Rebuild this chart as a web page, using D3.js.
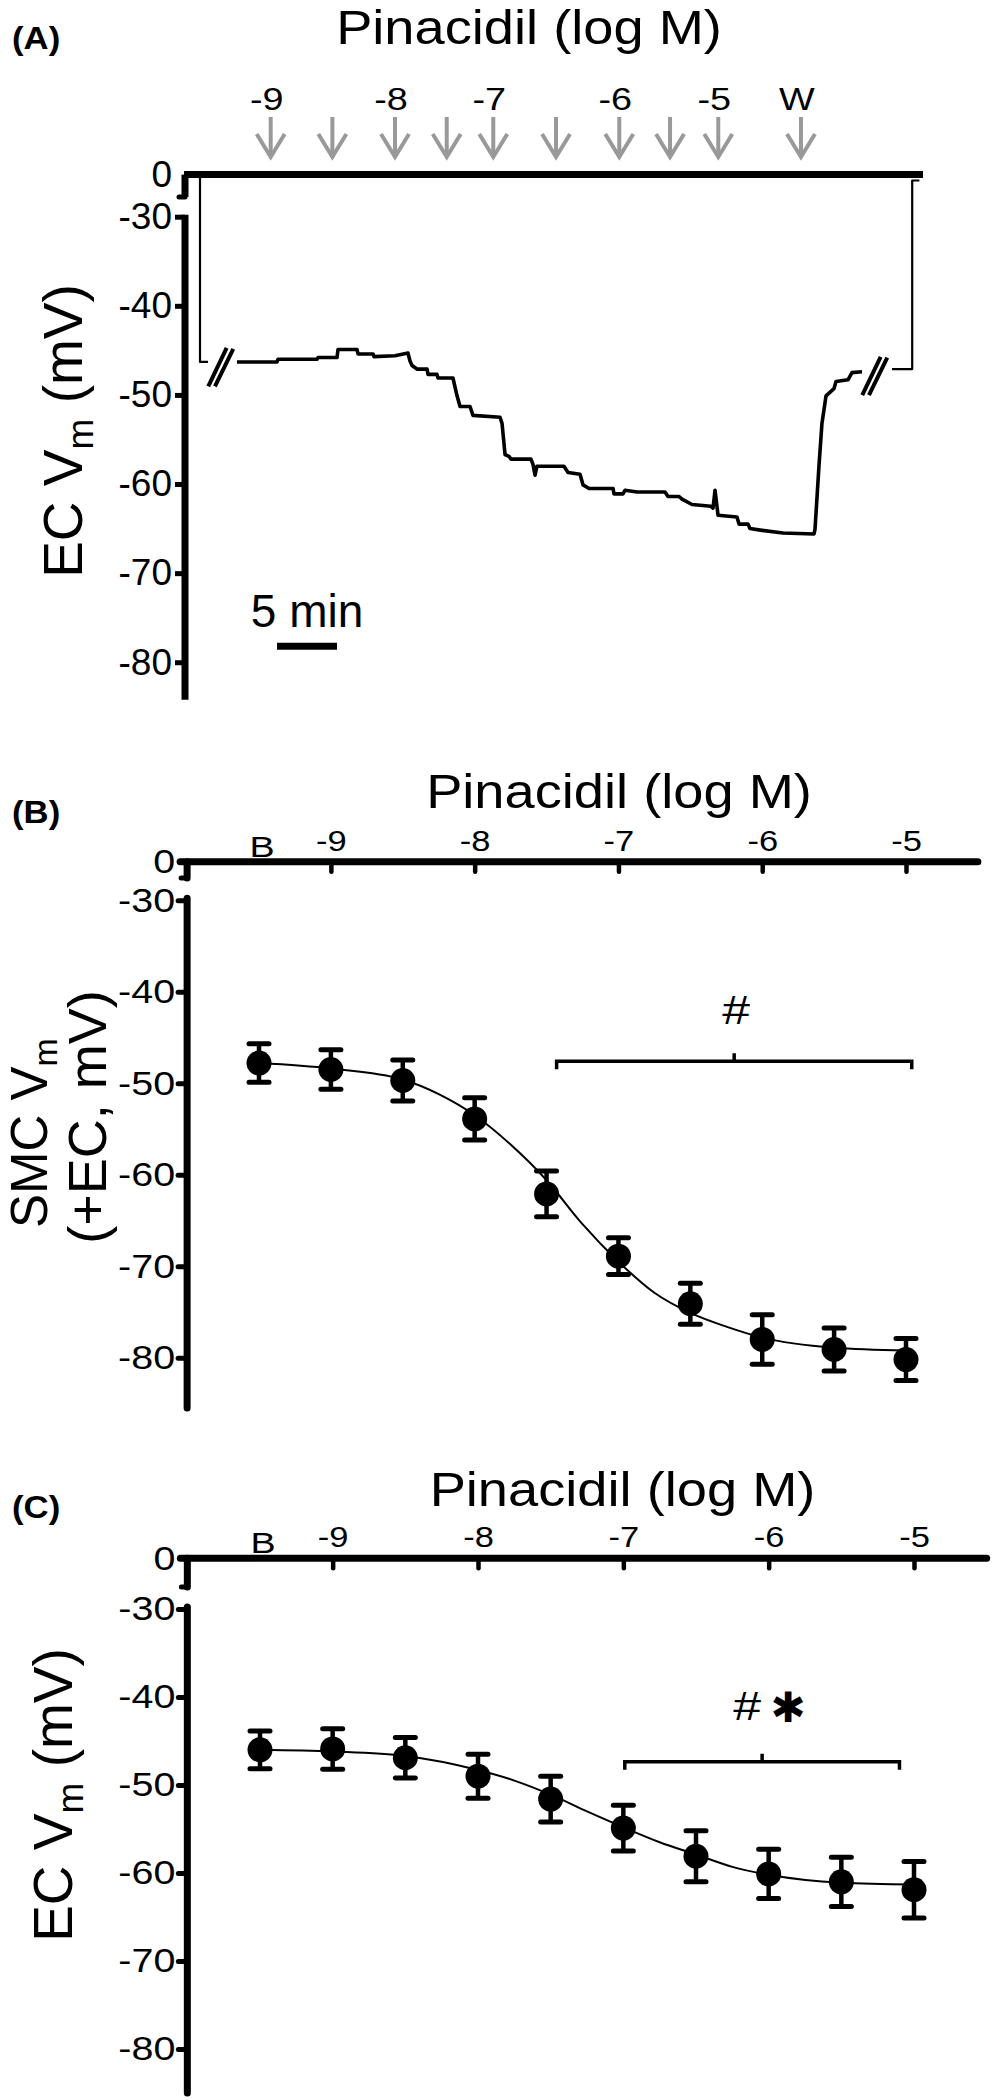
<!DOCTYPE html>
<html><head><meta charset="utf-8">
<script src="https://cdn.jsdelivr.net/npm/d3@7/dist/d3.min.js"></script>
<style>body{margin:0;background:#fff}</style>
</head><body><div id="chart"></div>
<script>
// ================= DATA =================
// Panel A: EC membrane potential trace (time in min, Vm in mV)
const arrowTimes  = [7.14, 12.28, 17.5, 21.81, 25.69, 30.92, 36.19, 40.42, 44.44, 51.33];
const arrowLabels = ["-9", "", "-8", "", "-7", "", "-6", "", "-5", "W"];
const traceLead = [[1.25, 0], [1.25, -46.3], [1.92, -46.3]];
const traceMain = [[4.33,-46.3],[7.67,-46.3],[7.75,-46.0],[11.0,-46.0],[11.08,-45.8],[12.67,-45.8],[12.75,-44.9],[14.33,-44.9],[14.42,-45.4],[15.67,-45.4],[15.75,-45.7],[17.5,-45.6],[18.58,-45.3],[18.75,-46.2],[18.92,-46.7],[19.33,-47.1],[20.17,-47.1],[20.25,-47.7],[21.0,-47.7],[21.08,-48.1],[22.33,-48.1],[22.67,-50.1],[22.92,-51.3],[23.75,-51.3],[24.0,-52.3],[26.25,-52.5],[26.42,-53.2],[26.67,-56.7],[27.0,-56.9],[27.17,-57.2],[28.83,-57.2],[29.0,-57.8],[29.17,-59.0],[29.33,-58.0],[31.58,-58.0],[31.92,-58.7],[32.92,-58.9],[33.17,-60.1],[33.67,-60.5],[35.67,-60.5],[35.75,-61.1],[36.5,-61.1],[36.67,-60.7],[37.67,-60.9],[40.0,-60.9],[40.25,-61.4],[41.17,-61.4],[41.42,-61.7],[42.25,-62.3],[43.83,-62.5],[44.0,-62.7],[44.17,-60.7],[44.42,-63.5],[46.0,-63.7],[46.17,-64.5],[46.92,-64.5],[47.08,-65.0],[48.08,-65.2],[49.83,-65.5],[52.42,-65.6],[52.5,-65.1],[52.83,-58.0],[53.08,-53.2],[53.42,-50.1],[54.08,-49.3],[54.25,-48.5],[55.25,-48.3],[55.58,-47.5],[56.42,-47.4]];
const traceTail = [[58.92, -47.1], [60.6, -47.1], [60.6, -4.2], [61.2, -4.2]];
const traceBreaks = [[2.98, -46.9], [57.48, -47.9]];
const scaleBarMin = 5, scaleBarStart = 7.67, scaleBarV = -78.2;
const yTicksA = [0, -30, -40, -50, -60, -70, -80];

// Panels B & C: concentration-response (log M; "B" = baseline)
const doseLevels = [-9.5, -9, -8.5, -8, -7.5, -7, -6.5, -6, -5.5, -5];
const doseTicks  = [-9, -8, -7, -6, -5];
const baselineLabel = "B";
const yTicksBC = [0, -30, -40, -50, -60, -70, -80];

const smcMean = [-47.8, -48.5, -49.7, -53.9, -62.1, -68.9, -74.1, -78.0, -79.1, -80.2];
const smcSem  = [2.1, 2.15, 2.25, 2.3, 2.5, 2.0, 2.25, 2.7, 2.35, 2.3];
const smcFit  = [[-9.5,-47.8],[-9,-48.4],[-8.5,-49.6],[-8.25,-51.2],[-8,-53.5],[-7.75,-56.7],[-7.5,-60.6],[-7.25,-65.4],[-7,-69.5],[-6.75,-72.9],[-6.5,-75.1],[-6.25,-76.6],[-6,-77.8],[-5.5,-78.9],[-5,-79.2]];
const smcSig  = {from: -7.43, to: -4.96, v: -47.6, label: "#"};

const ecMean = [-46.0, -45.9, -46.9, -49.0, -51.6, -54.9, -58.1, -60.1, -61.0, -61.9];
const ecSem  = [2.15, 2.3, 2.3, 2.5, 2.6, 2.6, 2.9, 2.8, 2.8, 3.2];
const ecFit  = [[-9.5,-46.0],[-9,-46.2],[-8.5,-46.7],[-8,-48.3],[-7.75,-49.5],[-7.5,-51.1],[-7.25,-53.0],[-7,-54.8],[-6.75,-56.5],[-6.5,-57.9],[-6.25,-59.3],[-6,-60.2],[-5.5,-61.1],[-5,-61.3]];
const ecSig  = {from: -6.99, to: -5.1, v: -47.35, label: "#"};

// ================= DRAW =================
const FONT = "'Liberation Sans', Arial, Helvetica, sans-serif";
const svg = d3.select("#chart").append("svg")
  .attr("width", 993).attr("height", 2100)
  .style("font-family", FONT).style("background", "#fff");

function addText(parent, x, y, str, size, opts = {}) {
  return parent.append("text")
    .attr("transform", `translate(${x},${y}) scale(${opts.sx || 1},1)`)
    .attr("text-anchor", opts.anchor || "start")
    .attr("font-size", size)
    .attr("font-weight", opts.weight || "normal")
    .attr("fill", "#000")
    .text(str);
}

function stretchTicks(sel, sx, size) {
  sel.selectAll(".tick text").each(function () {
    const t = d3.select(this);
    const x = +t.attr("x") || 0;
    t.attr("x", x / sx).attr("transform", `scale(${sx},1)`)
     .attr("font-size", size).attr("font-family", FONT).attr("fill", "#000");
  });
}

// ---------- Panel A ----------
(function () {
  const x = d3.scaleLinear().domain([0, 61.5]).range([185, 923]);
  const y = d3.scaleLinear().domain([0, -30, -85]).range([174.6, 216.7, 706.8]);
  const g = svg.append("g");

  addText(g, 12, 49, "(A)", 31, {weight: "bold", sx: 1.12});
  addText(g, 529, 44, "Pinacidil (log M)", 48, {anchor: "middle", sx: 1.13});

  // arrows
  const ar = g.append("g").attr("stroke", "#999").attr("stroke-width", 4).attr("fill", "none");
  arrowTimes.forEach((t, i) => {
    const ax = x(t);
    ar.append("line").attr("x1", ax).attr("x2", ax).attr("y1", 117).attr("y2", 154);
    ar.append("path").attr("d", `M${ax - 14},${134}L${ax},${157}L${ax + 14},${134}`).attr("stroke-linejoin", "miter");
    if (arrowLabels[i]) addText(g, ax - 4, 110, arrowLabels[i], 31, {anchor: "middle", sx: 1.22});
  });

  // x axis line (top)
  const xa = g.append("g").attr("transform", `translate(0,${y(0)})`)
    .call(d3.axisTop(x).tickValues([]).tickSizeOuter(0));
  xa.select(".domain").attr("stroke-width", 7).attr("d", `M${x(-0.08)},0H${x(61.5)}`);

  // y axis
  const ya = g.append("g").attr("transform", `translate(${x(0)},0)`)
    .call(d3.axisLeft(y).tickValues(yTicksA).tickFormat(d => String(d)).tickSize(10).tickPadding(3));
  ya.select(".domain").remove();
  ya.selectAll(".tick line").attr("stroke-width", 5);
  ya.selectAll(".tick").filter(d => d === 0).select("line").remove();
  stretchTicks(ya, 1, 37);
  const axs = g.append("g").attr("stroke", "#000").attr("stroke-width", 7);
  axs.append("line").attr("x1", x(0)).attr("x2", x(0)).attr("y1", y(0)).attr("y2", y(-16));
  axs.append("line").attr("x1", x(0) - 6).attr("x2", x(0)).attr("y1", y(-16)).attr("y2", y(-16)).attr("stroke-width", 5).attr("stroke-linecap", "round");
  axs.append("line").attr("x1", x(0)).attr("x2", x(0)).attr("y1", y(-30) - 2).attr("y2", y(-84.2));

  // y label
  const yl = g.append("text").attr("transform", `translate(82,431) rotate(-90)`)
    .attr("text-anchor", "middle").attr("font-size", 55).attr("fill", "#000");
  yl.append("tspan").text("EC V");
  yl.append("tspan").attr("font-size", 37).attr("dy", 11).text("m");
  yl.append("tspan").attr("dy", -11).text(" (mV)");

  // trace
  const line = d3.line().x(d => x(d[0])).y(d => y(d[1]));
  [traceLead, traceMain, traceTail].forEach(seg => {
    g.append("path").attr("d", line(seg)).attr("fill", "none").attr("stroke", "#000")
      .attr("stroke-width", seg === traceMain ? 3.6 : 2.2).attr("stroke-linejoin", "round");
  });
  // break marks
  traceBreaks.forEach(b => {
    const cx = x(b[0]), cy = y(b[1]);
    [[-12.5, 19, 5.9, -19.4], [-5.8, 19, 12.5, -18.5]].forEach(o => {
      g.append("line").attr("x1", cx + o[0]).attr("y1", cy + o[1]).attr("x2", cx + o[2]).attr("y2", cy + o[3])
        .attr("stroke", "#000").attr("stroke-width", 4);
    });
  });
  // scale bar
  g.append("line").attr("x1", x(scaleBarStart)).attr("x2", x(scaleBarStart + scaleBarMin))
    .attr("y1", y(scaleBarV)).attr("y2", y(scaleBarV)).attr("stroke", "#000").attr("stroke-width", 7);
  addText(g, x(scaleBarStart + scaleBarMin / 2), y(scaleBarV) - 19, scaleBarMin + " min", 46, {anchor: "middle"});
})();

// ---------- Panels B & C ----------
function dosePanel(o) {
  const x = d3.scaleLinear().domain([-9.5, -5]).range(o.xRange);
  const y = d3.scaleLinear().domain([0, -30, -85]).range(o.yRange);
  const g = svg.append("g");
  const y0 = y(0), ax0 = x(-10);

  addText(g, 12, o.tagY, o.tag, 31, {weight: "bold", sx: 1.12});
  addText(g, o.titleX, o.titleY, "Pinacidil (log M)", 48, {anchor: "middle", sx: 1.13});

  // x axis
  g.append("line").attr("x1", ax0 - 7).attr("x2", x(-4.5)).attr("y1", y0).attr("y2", y0)
    .attr("stroke", "#000").attr("stroke-width", 7).attr("stroke-linecap", "round");
  const xa = g.append("g").attr("transform", `translate(0,${y0})`)
    .call(d3.axisTop(x).tickValues(doseTicks).tickFormat(d => String(d)).tickSizeInner(-10).tickSizeOuter(0).tickPadding(11));
  xa.select(".domain").remove();
  xa.selectAll(".tick line").attr("stroke-width", 4.5).attr("stroke-linecap", "round");
  stretchTicks(xa, 1.15, 30);
  addText(g, x(doseLevels[0]) + 3, y0 - 5, baselineLabel, 29, {anchor: "middle", sx: 1.3});

  // y axis
  const ya = g.append("g").attr("transform", `translate(${ax0},0)`)
    .call(d3.axisLeft(y).tickValues(yTicksBC).tickFormat(d => String(d)).tickSize(9).tickPadding(3));
  ya.select(".domain").remove();
  ya.selectAll(".tick line").attr("stroke-width", 5).attr("stroke-linecap", "round");
  ya.selectAll(".tick").filter(d => d === 0).select("line").remove();
  stretchTicks(ya, 1.16, 34);
  const axs = g.append("g").attr("stroke", "#000").attr("stroke-width", 7);
  axs.append("line").attr("x1", ax0).attr("x2", ax0).attr("y1", y0).attr("y2", y(o.breakTop)).attr("stroke-linecap", "round");
  axs.append("line").attr("x1", ax0 - 6).attr("x2", ax0).attr("y1", y(o.breakTop)).attr("y2", y(o.breakTop)).attr("stroke-width", 5).attr("stroke-linecap", "round");
  axs.append("line").attr("x1", ax0).attr("x2", ax0).attr("y1", y(-30) - 2).attr("y2", y(o.axisBottom)).attr("stroke-linecap", "round");

  // y label
  o.yLabel(g);

  // fit curve
  g.append("path").attr("d", d3.line().curve(d3.curveMonotoneX).x(d => x(d[0])).y(d => y(d[1]))(o.fit))
    .attr("fill", "none").attr("stroke", "#000").attr("stroke-width", 2);

  // error bars + points
  const eb = g.append("g").attr("stroke", "#000");
  doseLevels.forEach((c, i) => {
    const cx = x(c), top = y(o.mean[i] + o.sem[i]), bot = y(o.mean[i] - o.sem[i]);
    eb.append("line").attr("x1", cx).attr("x2", cx).attr("y1", top).attr("y2", bot).attr("stroke-width", 4.5);
    [top, bot].forEach(yy => eb.append("line").attr("x1", cx - 10).attr("x2", cx + 10).attr("y1", yy).attr("y2", yy)
      .attr("stroke-width", 5).attr("stroke-linecap", "round"));
  });
  g.selectAll("circle.pt").data(doseLevels).join("circle").attr("class", "pt")
    .attr("cx", d => x(d)).attr("cy", (d, i) => y(o.mean[i])).attr("r", 12.5).attr("fill", "#000");

  // significance bracket
  const s = o.sig, x1 = x(s.from), x2 = x(s.to), by = y(s.v), xm = (x1 + x2) / 2;
  g.append("path").attr("d", `M${x1},${by + 8}V${by}H${x2}V${by + 8}M${xm},${by}V${by - 8}`)
    .attr("fill", "none").attr("stroke", "#000").attr("stroke-width", 3.5);
  o.sigLabel(g, xm, by);
}

dosePanel({
  tag: "(B)", tagY: 823, titleX: 619, titleY: 808,
  xRange: [259, 906], yRange: [861.7, 900.2, 1403.5], breakTop: -12.7, axisBottom: -85.5,
  mean: smcMean, sem: smcSem, fit: smcFit, sig: smcSig,
  yLabel: g => {
    const l1 = g.append("text").attr("transform", "translate(47,1133) rotate(-90)")
      .attr("text-anchor", "middle").attr("font-size", 51).attr("fill", "#000");
    l1.append("tspan").text("SMC V");
    l1.append("tspan").attr("font-size", 34).attr("dy", 10).text("m");
    g.append("text").attr("transform", "translate(106,1117) rotate(-90)")
      .attr("text-anchor", "middle").attr("font-size", 54).attr("fill", "#000").text("(+EC, mV)");
  },
  sigLabel: (g, xm, by) => { addText(g, xm + 2, by - 37, smcSig.label, 40, {anchor: "middle", sx: 1.25}); }
});

dosePanel({
  tag: "(C)", tagY: 1518, titleX: 622.5, titleY: 1506,
  xRange: [260, 914], yRange: [1558.3, 1609, 2093], breakTop: -17, axisBottom: -85,
  mean: ecMean, sem: ecSem, fit: ecFit, sig: ecSig,
  yLabel: g => {
    const l = g.append("text").attr("transform", "translate(72,1795) rotate(-90)")
      .attr("text-anchor", "middle").attr("font-size", 55).attr("fill", "#000");
    l.append("tspan").text("EC V");
    l.append("tspan").attr("font-size", 37).attr("dy", 11).text("m");
    l.append("tspan").attr("dy", -11).text(" (mV)");
  },
  sigLabel: (g, xm, by) => {
    addText(g, xm - 15, by - 42, ecSig.label, 40, {anchor: "middle", sx: 1.25});
    g.append("text").attr("x", xm + 26).attr("y", by - 40).attr("text-anchor", "middle")
      .attr("font-family", "'DejaVu Sans', sans-serif").attr("font-size", 42).attr("fill", "#000").text("\u2731");
  }
});
</script>
</body></html>
